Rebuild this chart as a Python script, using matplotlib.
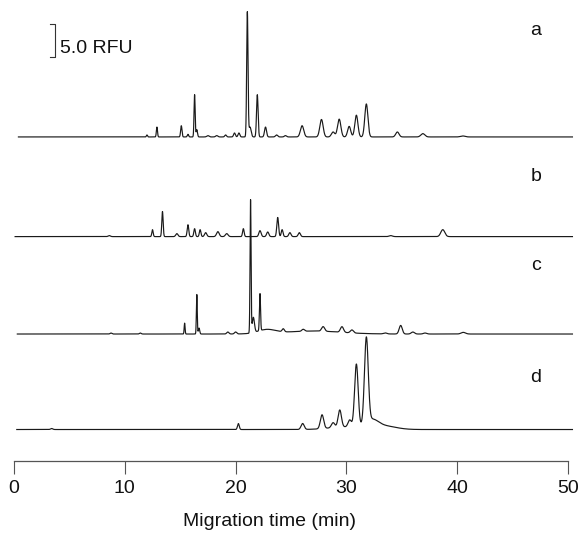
import numpy as np
import matplotlib
matplotlib.use("Agg")
import matplotlib.pyplot as plt

plt.rcParams['font.family'] = ['Liberation Sans', 'DejaVu Sans']

# ---- data: peak tables (min, RFU, width sigma in min)
a_pos = [12.0, 12.9, 15.1, 15.7, 16.3, 16.5, 17.5, 18.3, 19.1, 19.9, 20.3, 21.06, 21.3, 21.96,
         22.7, 23.7, 24.5, 26.0, 27.75, 28.8, 29.35, 30.25, 30.9, 31.8, 34.6, 36.9, 40.5]
a_hgt = [0.3, 1.5, 1.7, 0.4, 6.4, 1.1, 0.2, 0.2, 0.3, 0.6, 0.6, 18.9, 1.5, 6.4,
         1.5, 0.3, 0.2, 1.7, 2.65, 0.75, 2.7, 1.6, 3.3, 5.0, 0.75, 0.5, 0.15]
a_wid = [0.05, 0.05, 0.06, 0.06, 0.05, 0.06, 0.1, 0.1, 0.08, 0.08, 0.08, 0.06, 0.1, 0.07,
         0.09, 0.1, 0.1, 0.15, 0.15, 0.15, 0.15, 0.14, 0.14, 0.14, 0.15, 0.18, 0.2]

b_pos = [8.6, 12.5, 13.4, 14.7, 15.7, 16.3, 16.8, 17.3, 18.4, 19.2, 20.7, 22.2, 22.9, 23.8,
         24.2, 24.9, 25.75, 34.0, 38.7]
b_hgt = [0.15, 1.05, 3.8, 0.45, 1.8, 1.2, 1.05, 0.6, 0.75, 0.45, 1.2, 0.9, 0.7, 2.9,
         1.05, 0.6, 0.6, 0.15, 1.05]
b_wid = [0.1, 0.06, 0.06, 0.1, 0.07, 0.07, 0.07, 0.1, 0.12, 0.12, 0.07, 0.1, 0.1, 0.08,
         0.08, 0.1, 0.1, 0.15, 0.18]

c_pos = [8.75, 11.4, 15.4, 16.5, 16.7, 19.3, 20.0, 21.35, 21.6, 22.2, 22.8, 24.3, 26.1,
         27.0, 27.9, 29.6, 30.5, 33.5, 34.9, 36.0, 37.1, 40.55]
c_hgt = [0.15, 0.15, 1.65, 6.0, 0.9, 0.3, 0.3, 20.1, 2.3, 5.6, 0.6, 0.45, 0.3,
         0.45, 0.7, 0.85, 0.45, 0.15, 1.3, 0.3, 0.15, 0.25]
c_wid = [0.08, 0.08, 0.04, 0.04, 0.06, 0.1, 0.1, 0.045, 0.1, 0.05, 0.8, 0.1, 0.12,
         2.5, 0.14, 0.14, 0.14, 0.15, 0.14, 0.15, 0.15, 0.2]

d_pos = [3.4, 20.25, 26.05, 27.8, 28.8, 29.4, 30.0, 30.3, 30.9, 31.8, 32.3, 33.3]
d_hgt = [0.15, 0.9, 0.9, 2.1, 0.75, 2.6, 0.4, 1.05, 9.5, 12.9, 1.1, 0.55]
d_wid = [0.1, 0.08, 0.14, 0.15, 0.15, 0.15, 1.5, 0.15, 0.16, 0.17, 0.55, 1.1]

trace_labels = ['a', 'b', 'c', 'd']
trace_offsets = [49.1, 34.0, 19.24, 4.77]   # vertical stacking (RFU)
trace_starts = [0.4, 0.1, 0.3, 0.25]
x_ticks = [0, 10, 20, 30, 40, 50]
scale_bar_rfu = 5.0

peaks = [(a_pos, a_hgt, a_wid), (b_pos, b_hgt, b_wid), (c_pos, c_hgt, c_wid), (d_pos, d_hgt, d_wid)]

fig = plt.figure(figsize=(5.8, 5.33), dpi=100)
ax = fig.add_axes([14/580, (533-461)/533, 554/580, 461/533])
ax.set_xlim(0, 50)
ax.set_ylim(0, 461/6.6)

line_color = '#1a1a1a'
for (pos, hgt, wid), off, t0, lab in zip(peaks, trace_offsets, trace_starts, trace_labels):
    t = np.linspace(t0, 50.4, 8000)
    y = np.zeros_like(t)
    for p, h, w in zip(pos, hgt, wid):
        y += h * np.exp(-0.5 * ((t - p) / w) ** 2)
    ax.plot(t, y + off, color=line_color, lw=0.85, clip_on=False)

# trace labels
lab_y_px = [35, 180.7, 270, 381.7]
for lab, ypx in zip(trace_labels, lab_y_px):
    ax.text(47.1, (461 - ypx) / 6.6, lab, fontsize=14, ha='center', va='baseline', color='#111111')

# scale bar
xb = (55 - 14) / 11.08
y0 = (461 - 57) / 6.6
ax.plot([xb - 0.45, xb, xb, xb - 0.45], [y0, y0, y0 + scale_bar_rfu, y0 + scale_bar_rfu],
        color='#333333', lw=0.8, clip_on=False)
ax.text((60 - 14) / 11.08, (461 - 53) / 6.6, '5.0 RFU', fontsize=14, ha='left', va='baseline',
        color='#111111')

# axis styling
for s in ['top', 'right', 'left']:
    ax.spines[s].set_visible(False)
ax.spines['bottom'].set_color('#555555')
ax.spines['bottom'].set_linewidth(0.9)
ax.set_yticks([])
ax.set_xticks(x_ticks)
ax.set_xticklabels([str(v) for v in x_ticks])
ax.tick_params(axis='x', direction='out', length=9.5, width=0.8, color='#555555',
               labelsize=14, pad=4, labelcolor='#111111')
ax.patch.set_visible(False)

fig.text(269.5/580, 1 - 522/533, 'Migration time (min)', fontsize=14, ha='center', va='center',
         color='#111111')

fig.savefig('out.png', dpi=100)
